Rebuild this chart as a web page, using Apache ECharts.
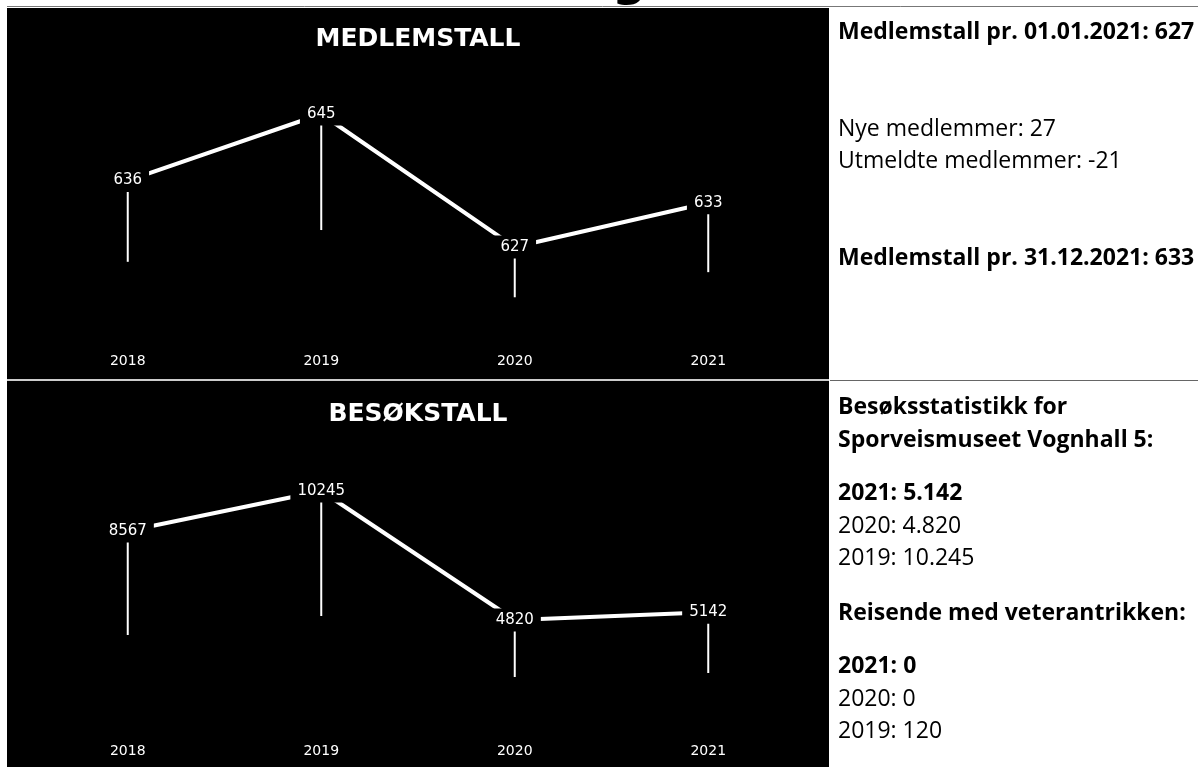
<!DOCTYPE html>
<html>
<head>
<meta charset="utf-8">
<script src="https://cdn.jsdelivr.net/npm/echarts@6/dist/echarts.min.js"></script>
<style>
  html, body { margin: 0; padding: 0; background: #fff; }
  #chart { width: 1198px; height: 767px; }
</style>
</head>
<body>
<div id="chart"></div>
<script>
// data
const years = ['2018', '2019', '2020', '2021'];
const members = [636, 645, 627, 633];
const memberStemLow = [625, 629.3, 620.2, 623.6];
const visitors = [8567, 10245, 4820, 5142];
const visitorStemLow = [4190, 4988, 2423, 2591];

const memberNotes = [
  ['Medlemstall pr. 01.01.2021: 627', true],
  ['Nye medlemmer: 27', false],
  ['Utmeldte medlemmer: -21', false],
  ['Medlemstall pr. 31.12.2021: 633', true],
];
const visitNotes = [
  ['Besøksstatistikk for', true],
  ['Sporveismuseet Vognhall 5:', true],
  ['2021: 5.142', true],
  ['2020: 4.820', false],
  ['2019: 10.245', false],
  ['Reisende med veterantrikken:', true],
  ['2021: 0', true],
  ['2020: 0', false],
  ['2019: 120', false],
];
const memberNoteY = [32, 129, 161, 258];
const visitNoteY = [407, 440, 493, 526, 558, 613, 666, 699, 731];

const chart = echarts.init(document.getElementById('chart'));

function stemSeries(idx, values, lows) {
  return {
    type: 'custom',
    xAxisIndex: idx,
    yAxisIndex: idx,
    silent: true,
    z: 1,
    data: values.map((v, i) => [i, v, lows[i]]),
    renderItem: function(params, api) {
      const top = api.coord([api.value(0), api.value(1)]);
      const bottom = api.coord([api.value(0), api.value(2)]);
      return {
        type: 'line',
        shape: {x1: top[0], y1: top[1], x2: bottom[0], y2: bottom[1]},
        style: {stroke: '#fff', lineWidth: 2},
      };
    },
  };
}

function lineSeries(idx, values) {
  return {
    type: 'line',
    xAxisIndex: idx,
    yAxisIndex: idx,
    data: values,
    silent: true,
    z: 3,
    symbol: 'circle',
    symbolSize: 1,
    itemStyle: {color: '#000'},
    lineStyle: {color: '#fff', width: 4},
    label: {
      show: true,
      position: 'inside',
      color: '#fff',
      fontFamily: 'DejaVu Sans',
      fontSize: 15,
      backgroundColor: '#000',
      padding: [4, 7],
    },
  };
}

function xAxis(idx, margin) {
  return {
    type: 'category',
    gridIndex: idx,
    data: years,
    boundaryGap: true,
    axisLine: {show: false},
    axisTick: {show: false},
    splitLine: {show: false},
    axisLabel: {color: '#fff', fontFamily: 'DejaVu Sans', fontSize: 14, margin: margin},
  };
}

function yAxis(idx, min, max) {
  return {
    type: 'value',
    gridIndex: idx,
    min: min,
    max: max,
    show: false,
    splitLine: {show: false},
  };
}

function noteTexts(notes, ys) {
  return notes.map((n, i) => ({
    type: 'text',
    x: 838,
    y: ys[i],
    z: 5,
    style: {
      text: n[0],
      fill: '#000',
      font: (n[1] ? 'bold ' : '') + '23px "Open Sans"',
      verticalAlign: 'middle',
    },
  }));
}

const graphics = [
  // cut-off heading above the chart
  {type: 'text', x: 612, y: -17, z: -1, style: {text: 'g', fill: '#000', font: 'bold 48px "DejaVu Sans"', verticalAlign: 'middle'}},
  {type: 'line', z: 0, shape: {x1: 7, y1: 6.5, x2: 1198, y2: 6.5}, style: {stroke: '#777', lineWidth: 1}},
  {type: 'rect', z: 0, shape: {x: 7, y: 8, width: 822, height: 371}, style: {fill: '#000'}},
  {type: 'rect', z: 0, shape: {x: 7, y: 381, width: 822, height: 386}, style: {fill: '#000'}},
  {type: 'line', z: 0, shape: {x1: 7, y1: 380, x2: 829, y2: 380}, style: {stroke: '#ccc', lineWidth: 2}},
  {type: 'line', z: 0, shape: {x1: 830, y1: 380.5, x2: 1198, y2: 380.5}, style: {stroke: '#666', lineWidth: 1}},
  {type: 'text', x: 418, y: 39, z: 5, style: {text: 'MEDLEMSTALL', fill: '#fff', font: 'bold 25px "DejaVu Sans"', align: 'center', verticalAlign: 'middle'}},
  {type: 'text', x: 418, y: 414, z: 5, style: {text: 'BESØKSTALL', fill: '#fff', font: 'bold 25px "DejaVu Sans"', align: 'center', verticalAlign: 'middle'}},
].concat(noteTexts(memberNotes, memberNoteY), noteTexts(visitNotes, visitNoteY));

chart.setOption({
  animation: false,
  backgroundColor: '#fff',
  grid: [
    {left: 31, right: 393, top: 47.5, bottom: 423.9},
    {left: 31, right: 393, top: 449.3, bottom: 32.4},
  ],
  xAxis: [xAxis(0, 11), xAxis(1, 10)],
  yAxis: [yAxis(0, 614, 654), yAxis(1, 0, 12000)],
  graphic: graphics,
  series: [
    stemSeries(0, members, memberStemLow),
    lineSeries(0, members),
    stemSeries(1, visitors, visitorStemLow),
    lineSeries(1, visitors),
  ],
});
</script>
</body>
</html>
